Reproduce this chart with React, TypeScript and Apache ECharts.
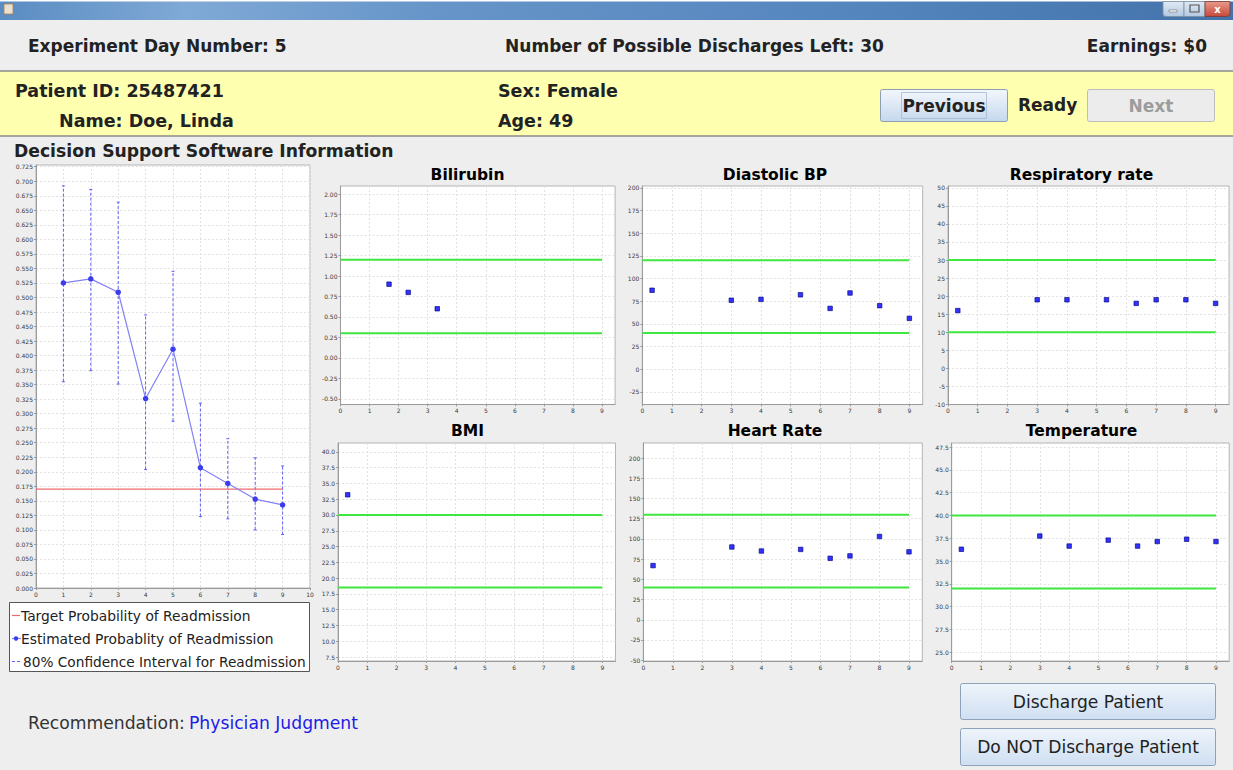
import React, { useEffect, useRef } from 'react';
import * as echarts from 'echarts';

// ---------------- data ----------------
const probDays = [1, 2, 3, 4, 5, 6, 7, 8, 9];
const estimatedProb = [0.525, 0.532, 0.509, 0.326, 0.411, 0.207, 0.18, 0.153, 0.143];
const ciLow = [0.355, 0.374, 0.351, 0.204, 0.287, 0.123, 0.119, 0.1, 0.092];
const ciHigh = [0.692, 0.686, 0.664, 0.47, 0.545, 0.318, 0.257, 0.224, 0.21];
const targetProb = 0.17;
const targetDays = [0, 9];
const probTicks = [0, 0.025, 0.05, 0.075, 0.1, 0.125, 0.15, 0.175, 0.2, 0.225, 0.25, 0.275, 0.3, 0.325, 0.35, 0.375, 0.4, 0.425, 0.45, 0.475, 0.5, 0.525, 0.55, 0.575, 0.6, 0.625, 0.65, 0.675, 0.7, 0.725];
const probDayTicks = [0, 1, 2, 3, 4, 5, 6, 7, 8, 9, 10];
const vitalDayTicks = [0, 1, 2, 3, 4, 5, 6, 7, 8, 9];
const limitDays = [0, 9];

const bilirubinDays = [1.67, 2.33, 3.33];
const bilirubinVals = [0.9, 0.8, 0.6];
const bilirubinLimits = [0.3, 1.2];
const bilirubinTicks = [-0.5, -0.25, 0, 0.25, 0.5, 0.75, 1, 1.25, 1.5, 1.75, 2];

const vitalDays = [0.33, 3, 4, 5.33, 6.33, 7, 8, 9];
const diastolicVals = [87, 76, 77, 82, 67, 84, 70, 56];
const diastolicLimits = [40, 120];
const diastolicTicks = [-25, 0, 25, 50, 75, 100, 125, 150, 175, 200];

const respVals = [16, 19, 19, 19, 18, 19, 19, 18];
const respLimits = [10, 30];
const respTicks = [-10, -5, 0, 5, 10, 15, 20, 25, 30, 35, 40, 45, 50];

const bmiDays = [0.33];
const bmiVals = [33.2];
const bmiLimits = [18.5, 30];
const bmiTicks = [7.5, 10, 12.5, 15, 17.5, 20, 22.5, 25, 27.5, 30, 32.5, 35, 37.5, 40];

const heartVals = [67, 90, 85, 87, 76, 79, 103, 84];
const heartLimits = [40, 130];
const heartTicks = [-50, -25, 0, 25, 50, 75, 100, 125, 150, 175, 200];

const tempVals = [36.3, 37.75, 36.65, 37.3, 36.65, 37.15, 37.4, 37.15];
const tempLimits = [32, 40];
const tempTicks = [25, 27.5, 30, 32.5, 35, 37.5, 40, 42.5, 45, 47.5];

// ---------------- layout ----------------
const FONT = '"DejaVu Sans", Verdana, sans-serif';

const panels = [
  { title: 'Bilirubin', xs: bilirubinDays, ys: bilirubinVals, limits: bilirubinLimits, ticks: bilirubinTicks, dec: 2, min: -0.57, max: 2.1, grid: { left: 340.5, top: 186, width: 274.6, height: 218.5 }, tx: 467.5, ty: 175 },
  { title: 'Diastolic BP', xs: vitalDays, ys: diastolicVals, limits: diastolicLimits, ticks: diastolicTicks, dec: 0, min: -39, max: 202, grid: { left: 642.3, top: 186, width: 280.4, height: 218.5 }, tx: 775, ty: 175 },
  { title: 'Respiratory rate', xs: vitalDays, ys: respVals, limits: respLimits, ticks: respTicks, dec: 0, min: -10, max: 50.5, grid: { left: 948, top: 186, width: 281, height: 218.5 }, tx: 1081.5, ty: 175 },
  { title: 'BMI', xs: bmiDays, ys: bmiVals, limits: bmiLimits, ticks: bmiTicks, dec: 1, min: 6.87, max: 41.4, grid: { left: 338, top: 443, width: 277.5, height: 218 }, tx: 467.5, ty: 431 },
  { title: 'Heart Rate', xs: vitalDays, ys: heartVals, limits: heartLimits, ticks: heartTicks, dec: 0, min: -51, max: 218.6, grid: { left: 643.3, top: 443, width: 279, height: 218 }, tx: 775, ty: 431 },
  { title: 'Temperature', xs: vitalDays, ys: tempVals, limits: tempLimits, ticks: tempTicks, dec: 1, min: 24.05, max: 47.95, grid: { left: 951.7, top: 443, width: 277.5, height: 218 }, tx: 1081.5, ty: 431 },
];

function valueAxis(gridIndex: number, min: number, max: number, ticks: number[], dec: number) {
  return {
    type: 'value',
    gridIndex,
    min,
    max,
    axisLine: { show: true, onZero: false, lineStyle: { color: '#9a9a9a', width: 1 } },
    axisTick: { show: true, length: 2, customValues: ticks, lineStyle: { color: '#9a9a9a' } },
    axisLabel: {
      customValues: ticks,
      fontSize: 6,
      color: '#3a3a3a',
      fontFamily: FONT,
      margin: 3,
      formatter: (v: number) => Number(v).toFixed(dec),
    },
    splitLine: { show: true, lineStyle: { color: '#e2e2e2', type: [2, 2], width: 1 } },
  };
}

function txt(x: number, y: number, text: string, opts: any = {}) {
  return {
    type: 'text',
    x,
    y,
    silent: true,
    style: {
      text,
      fill: opts.fill || '#222',
      fontSize: opts.size || 17,
      fontWeight: opts.weight || 'normal',
      fontFamily: FONT,
      align: opts.align || 'left',
      verticalAlign: 'middle',
    },
  };
}

function vgrad(c1: string, c2: string) {
  return { type: 'linear', x: 0, y: 0, x2: 0, y2: 1, colorStops: [{ offset: 0, color: c1 }, { offset: 1, color: c2 }] };
}

function buildOption() {
  const grids: any[] = [
    { left: 36, top: 165, width: 274, height: 423, show: true, backgroundColor: '#ffffff', borderColor: '#b4b4b4', borderWidth: 1 },
  ];
  const xAxes: any[] = [valueAxis(0, 0, 10, probDayTicks, 0)];
  const yAxes: any[] = [valueAxis(0, 0, 0.728, probTicks, 3)];
  const series: any[] = [];

  series.push({
    type: 'custom',
    name: '80% Confidence Interval for Readmission',
    xAxisIndex: 0,
    yAxisIndex: 0,
    encode: { x: 0, y: [1, 2] },
    data: probDays.map((d, i) => [d, ciLow[i], ciHigh[i]]),
    renderItem: (params: any, api: any) => {
      const x = api.value(0);
      const lo = api.coord([x, api.value(1)]);
      const hi = api.coord([x, api.value(2)]);
      const c = '#6060f2';
      return {
        type: 'group',
        children: [
          { type: 'line', shape: { x1: lo[0], y1: lo[1], x2: hi[0], y2: hi[1] }, style: { stroke: c, lineWidth: 1, lineDash: [3, 2] } },
          { type: 'line', shape: { x1: hi[0] - 1.5, y1: hi[1], x2: hi[0] + 1.5, y2: hi[1] }, style: { stroke: c, lineWidth: 1 } },
          { type: 'line', shape: { x1: lo[0] - 1.5, y1: lo[1], x2: lo[0] + 1.5, y2: lo[1] }, style: { stroke: c, lineWidth: 1 } },
        ],
      };
    },
  });
  series.push({
    type: 'line',
    name: 'Target Probability of Readmission',
    xAxisIndex: 0,
    yAxisIndex: 0,
    data: targetDays.map((d) => [d, targetProb]),
    symbol: 'none',
    lineStyle: { color: '#f06a6a', width: 1.2 },
  });
  series.push({
    type: 'line',
    name: 'Estimated Probablity of Readmission',
    xAxisIndex: 0,
    yAxisIndex: 0,
    data: probDays.map((d, i) => [d, estimatedProb[i]]),
    symbol: 'circle',
    symbolSize: 5.5,
    itemStyle: { color: '#3c3cee' },
    lineStyle: { color: '#8282f4', width: 1.2 },
  });

  panels.forEach((p, k) => {
    const gi = k + 1;
    grids.push({ ...p.grid, show: true, backgroundColor: '#ffffff', borderColor: '#b4b4b4', borderWidth: 1 });
    xAxes.push(valueAxis(gi, 0, 9.45, vitalDayTicks, 0));
    yAxes.push(valueAxis(gi, p.min, p.max, p.ticks, p.dec));
    p.limits.forEach((lim) => {
      series.push({
        type: 'line',
        xAxisIndex: gi,
        yAxisIndex: gi,
        data: limitDays.map((d) => [d, lim]),
        symbol: 'none',
        lineStyle: { color: '#3fe63f', width: 2 },
      });
    });
    series.push({
      type: 'scatter',
      name: p.title,
      xAxisIndex: gi,
      yAxisIndex: gi,
      data: p.xs.map((d, i) => [d, p.ys[i]]),
      symbol: 'rect',
      symbolSize: 4.5,
      itemStyle: { color: '#0000ff', borderColor: '#00007a', borderWidth: 0.8 },
    });
  });

  const graphic: any[] = [];
  // title bar
  graphic.push({ type: 'rect', shape: { x: 0, y: 0, width: 1233, height: 20 }, style: { fill: { type: 'linear', x: 0, y: 0, x2: 1, y2: 0, colorStops: [{ offset: 0, color: '#5a8cc2' }, { offset: 0.15, color: '#7fa9d6' }, { offset: 0.35, color: '#6795c9' }, { offset: 0.7, color: '#5485bd' }, { offset: 1, color: '#4373aa' }] } }, silent: true });
  graphic.push({ type: 'rect', shape: { x: 0, y: 0, width: 1233, height: 1.5 }, style: { fill: '#ffffff' }, silent: true });
  graphic.push({ type: 'rect', shape: { x: 4, y: 4, width: 9, height: 10 }, style: { fill: '#e8e2d0', stroke: '#b08050', lineWidth: 0.8 }, silent: true });
  graphic.push({ type: 'rect', shape: { x: 1163, y: 1.5, width: 21, height: 15, r: [0, 0, 0, 3] }, style: { fill: vgrad('#dfe9f4', '#b4c9e0'), stroke: '#7f8fa3', lineWidth: 0.8 }, silent: true });
  graphic.push({ type: 'rect', shape: { x: 1184, y: 1.5, width: 21, height: 15 }, style: { fill: vgrad('#dfe9f4', '#b4c9e0'), stroke: '#7f8fa3', lineWidth: 0.8 }, silent: true });
  graphic.push({ type: 'rect', shape: { x: 1205, y: 1.5, width: 25, height: 15, r: [0, 0, 3, 0] }, style: { fill: vgrad('#e99a8c', '#c7483a'), stroke: '#7a3a33', lineWidth: 0.8 }, silent: true });
  graphic.push({ type: 'rect', shape: { x: 1169, y: 10, width: 8, height: 2 }, style: { fill: '#ffffff', stroke: '#555', lineWidth: 0.5 }, silent: true });
  graphic.push({ type: 'rect', shape: { x: 1190, y: 5, width: 9, height: 7 }, style: { fill: 'none', stroke: '#555', lineWidth: 1.2 }, silent: true });
  graphic.push(txt(1217.5, 9, 'x', { size: 10, weight: 'bold', fill: '#ffffff', align: 'center' }));

  // header row
  graphic.push(txt(28, 46, 'Experiment Day Number: 5', { weight: 'bold', size: 17 }));
  graphic.push(txt(694.5, 46, 'Number of Possible Discharges Left: 30', { weight: 'bold', size: 17, align: 'center' }));
  graphic.push(txt(1207, 46, 'Earnings: $0', { weight: 'bold', size: 17, align: 'right' }));

  // patient band
  graphic.push({ type: 'rect', shape: { x: -2, y: 71, width: 1240, height: 65 }, style: { fill: '#ffffb0', stroke: '#8a8a8a', lineWidth: 1.5 }, silent: true });
  graphic.push(txt(15, 91, 'Patient ID: 25487421', { weight: 'bold', size: 17.5 }));
  graphic.push(txt(59, 121, 'Name: Doe, Linda', { weight: 'bold', size: 17.5 }));
  graphic.push(txt(498, 91, 'Sex: Female', { weight: 'bold', size: 17.5 }));
  graphic.push(txt(498, 121, 'Age: 49', { weight: 'bold', size: 17.5 }));
  graphic.push({ type: 'rect', shape: { x: 880.5, y: 89.5, width: 127, height: 32, r: 2 }, style: { fill: vgrad('#f3f7fc', '#c5d8ee'), stroke: '#8d9fb3', lineWidth: 1 }, silent: true });
  graphic.push({ type: 'rect', shape: { x: 901.5, y: 92.5, width: 85, height: 26 }, style: { fill: 'none', stroke: '#a8b8cc', lineWidth: 0.8 }, silent: true });
  graphic.push(txt(944, 105.5, 'Previous', { weight: 'bold', size: 17, align: 'center' }));
  graphic.push(txt(1018, 105, 'Ready', { weight: 'bold', size: 17 }));
  graphic.push({ type: 'rect', shape: { x: 1087.5, y: 89.5, width: 127, height: 32, r: 2 }, style: { fill: '#ececec', stroke: '#bdbdbd', lineWidth: 1 }, silent: true });
  graphic.push(txt(1151, 105.5, 'Next', { weight: 'bold', size: 17, fill: '#9c9c9c', align: 'center' }));

  graphic.push(txt(14, 151, 'Decision Support Software Information', { weight: 'bold', size: 17.2 }));

  // chart titles
  panels.forEach((p) => graphic.push(txt(p.tx, p.ty, p.title, { weight: 'bold', size: 15.5, fill: '#000', align: 'center' })));

  // legend of the probability chart
  graphic.push({ type: 'rect', shape: { x: 9.5, y: 602.5, width: 300, height: 69 }, style: { fill: '#ffffff', stroke: '#555555', lineWidth: 1 }, silent: true });
  graphic.push({ type: 'line', shape: { x1: 12, y1: 615.5, x2: 20, y2: 615.5 }, style: { stroke: '#f06a6a', lineWidth: 1.2 }, silent: true });
  graphic.push({ type: 'line', shape: { x1: 12, y1: 638.5, x2: 21, y2: 638.5 }, style: { stroke: '#8282f4', lineWidth: 1.2 }, silent: true });
  graphic.push({ type: 'circle', shape: { cx: 16, cy: 638.5, r: 2.2 }, style: { fill: '#3c3cee' }, silent: true });
  graphic.push({ type: 'line', shape: { x1: 12, y1: 661.5, x2: 21, y2: 661.5 }, style: { stroke: '#6060f2', lineWidth: 1, lineDash: [3, 2] }, silent: true });
  graphic.push(txt(21, 616, 'Target Probability of Readmission', { size: 13.8 }));
  graphic.push(txt(21, 639, 'Estimated Probablity of Readmission', { size: 13.8 }));
  graphic.push(txt(23, 662, '80% Confidence Interval for Readmission', { size: 13.7 }));

  // bottom
  graphic.push(txt(28, 723, 'Recommendation:', { size: 17.2, fill: '#333' }));
  graphic.push(txt(189, 723, 'Physician Judgment', { size: 17.2, fill: '#1c1ce6' }));
  graphic.push({ type: 'rect', shape: { x: 960.5, y: 683.5, width: 255, height: 36, r: 2 }, style: { fill: vgrad('#eef4fb', '#cfdff1'), stroke: '#8ea3b9', lineWidth: 1 }, silent: true });
  graphic.push(txt(1088, 702, 'Discharge Patient', { size: 17.1, align: 'center' }));
  graphic.push({ type: 'rect', shape: { x: 960.5, y: 728.5, width: 255, height: 37, r: 2 }, style: { fill: vgrad('#eef4fb', '#cfdff1'), stroke: '#8ea3b9', lineWidth: 1 }, silent: true });
  graphic.push(txt(1088, 747, 'Do NOT Discharge Patient', { size: 17.1, align: 'center' }));

  return {
    animation: false,
    backgroundColor: '#eeeeee',
    grid: grids,
    xAxis: xAxes,
    yAxis: yAxes,
    series,
    graphic,
  };
}

export default function App() {
  const ref = useRef<HTMLDivElement>(null);
  useEffect(() => {
    document.body.style.margin = '0';
    if (!ref.current) return;
    const chart = echarts.init(ref.current, null, { renderer: 'svg' });
    chart.setOption(buildOption() as any);
    return () => chart.dispose();
  }, []);
  return <div ref={ref} style={{ position: 'fixed', left: 0, top: 0, width: 1233, height: 770 }} />;
}
